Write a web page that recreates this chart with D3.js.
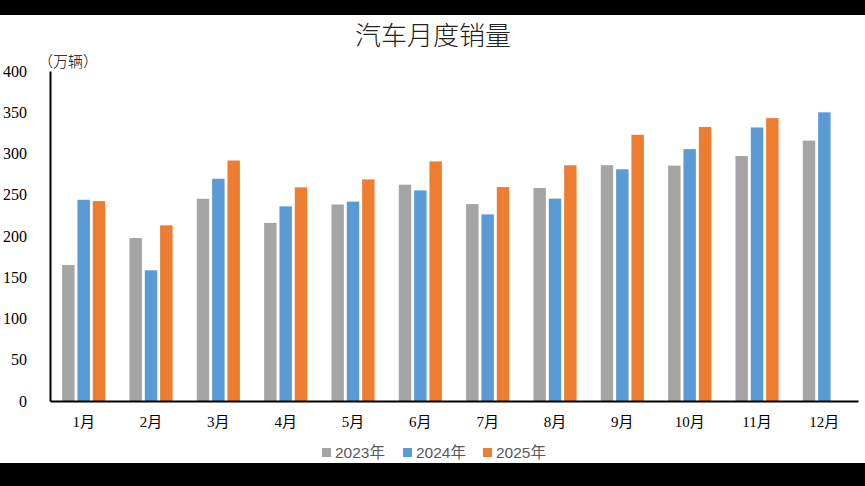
<!DOCTYPE html>
<html>
<head>
<meta charset="utf-8">
<script src="https://cdn.jsdelivr.net/npm/d3@7"></script>
<style>
  html, body { margin: 0; padding: 0; background: #000; }
  svg { display: block; }
</style>
</head>
<body>
<svg id="chart"></svg>
<script>
// DATA
const months = ['1月', '2月', '3月', '4月', '5月', '6月', '7月', '8月', '9月', '10月', '11月', '12月']
const seriesNames = ['2023年', '2024年', '2025年']
const sales2023 = [164.9, 197.6, 245.1, 215.9, 238.2, 262.2, 238.7, 258.2, 285.8, 285.3, 297.0, 315.6]
const sales2024 = [243.9, 158.4, 269.4, 235.9, 241.7, 255.2, 226.2, 245.3, 280.9, 305.3, 331.6, 349.9]
const sales2025 = [242.3, 212.9, 291.5, 259.0, 268.6, 290.4, 259.3, 285.7, 322.7, 332.2, 342.9, null]
const yTicks = [0, 50, 100, 150, 200, 250, 300, 350, 400]
const colors = ['#a5a5a5', '#5b9bd5', '#ed7d31']

const seriesValues = [sales2023, sales2024, sales2025]
const data = months.map((m, i) => ({
  month: m,
  values: seriesNames.map((s, j) => ({ key: s, value: seriesValues[j][i] }))
}))

// MARGIN CONVENTION
const totalWidth = 865,
  totalHeight = 486,
  margin = { left: 50, top: 71, right: 7, bottom: 85 },
  width = totalWidth - margin.left - margin.right,
  height = totalHeight - margin.top - margin.bottom

const svg = d3.select('#chart')
  .attr('width', totalWidth)
  .attr('height', totalHeight)

// WHITE CANVAS BETWEEN THE BLACK BANDS
svg.append('rect')
  .attr('x', 0)
  .attr('y', 15)
  .attr('width', totalWidth)
  .attr('height', 448)
  .attr('fill', '#fff')

// TITLE
svg.append('text')
  .attr('x', 433)
  .attr('y', 45)
  .attr('text-anchor', 'middle')
  .style('font-family', '"Noto Sans CJK SC", sans-serif')
  .style('font-size', '26px')
  .style('font-weight', 300)
  .attr('fill', '#222')
  .text('汽车月度销量')

// SCALES
const x0 = d3.scaleBand()
  .domain(months)
  .range([0, width])
  .paddingInner(0.36)
  .paddingOuter(0.18)

const x1 = d3.scaleBand()
  .domain(seriesNames)
  .range([0, x0.bandwidth()])
  .paddingInner(0.19)

const y = d3.scaleLinear()
  .domain([0, 400])
  .range([height, 0])

const color = d3.scaleOrdinal()
  .domain(seriesNames)
  .range(colors)

const plot = svg.append('g')
  .attr('transform', `translate(${margin.left}, ${margin.top})`)

// BARS
plot.append('g')
  .selectAll('g')
  .data(data)
  .join('g')
    .attr('transform', d => `translate(${x0(d.month)}, 0)`)
  .selectAll('rect')
  .data(d => d.values.filter(v => v.value != null))
  .join('rect')
    .attr('x', d => x1(d.key))
    .attr('y', d => y(d.value))
    .attr('width', x1.bandwidth())
    .attr('height', d => height - y(d.value))
    .attr('fill', d => color(d.key))

// AXES
const xAxis = d3.axisBottom(x0).tickSize(0).tickPadding(15)
const gx = plot.append('g')
  .attr('transform', `translate(0, ${height})`)
  .call(xAxis)
gx.select('.domain').attr('stroke', '#000').attr('stroke-width', 2)
gx.selectAll('text')
  .style('font-family', '"Times New Roman", "Liberation Serif", "Noto Sans CJK SC", serif')
  .style('font-size', '15px')
  .attr('fill', '#000')

const yAxis = d3.axisLeft(y).tickValues(yTicks).tickSize(0).tickPadding(23)
const gy = plot.append('g')
  .call(yAxis)
gy.select('.domain').attr('stroke', '#000').attr('stroke-width', 2)
gy.selectAll('text')
  .style('font-family', '"Times New Roman", "Liberation Serif", serif')
  .style('font-size', '16px')
  .attr('fill', '#000')

// UNIT LABEL
svg.append('text')
  .attr('x', 38)
  .attr('y', 67)
  .style('font-family', '"Noto Sans CJK SC", sans-serif')
  .style('font-size', '15px')
  .style('font-weight', 300)
  .attr('fill', '#000')
  .text('（万辆）')

// LEGEND
const legendX = [322, 403, 483]
const legend = svg.append('g')
  .selectAll('g')
  .data(seriesNames)
  .join('g')
    .attr('transform', (d, i) => `translate(${legendX[i]}, 448)`)

legend.append('rect')
  .attr('width', 9)
  .attr('height', 9)
  .attr('fill', d => color(d))

legend.append('text')
  .attr('x', 13)
  .attr('y', 9.5)
  .style('font-family', '"Liberation Sans", "Noto Sans CJK SC", sans-serif')
  .style('font-size', '15.5px')
  .attr('fill', '#595959')
  .text(d => d)
</script>
</body>
</html>
